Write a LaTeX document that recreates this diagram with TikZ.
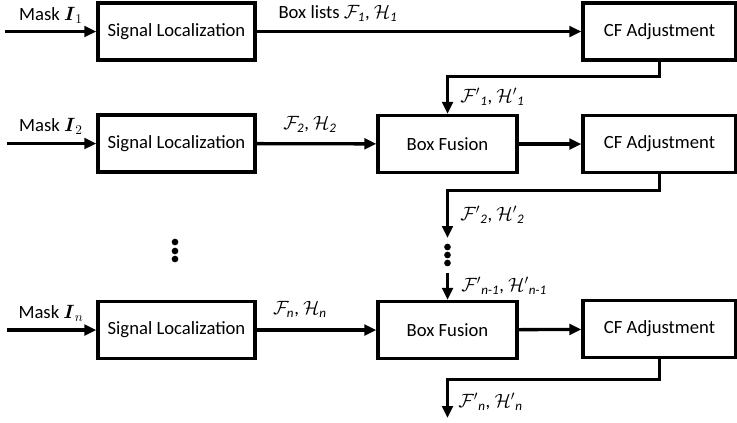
\documentclass[tikz,border=0pt]{standalone}
\usepackage{amsmath}
\usepackage{fontspec}
\setmainfont{Carlito}
\usetikzlibrary{arrows.meta}
\begin{document}
\begin{tikzpicture}[x=0.75pt,y=-0.75pt,
 blk/.style={draw,line width=2.5pt,minimum height=42.75pt,inner sep=0pt,font=\fontsize{14}{16}\selectfont},
 sl/.style={blk,minimum width=117.75pt},
 bf/.style={blk,minimum width=104.25pt},
 cf/.style={blk,minimum width=114.75pt},
 arr/.style={line width=2.5pt,-{Triangle[length=9pt,width=8pt]}},
 lbl/.style={font=\fontsize{14}{16}\selectfont,inner sep=0pt},
 dotn/.style={fill,circle,inner sep=0pt,minimum size=5pt}]
\useasboundingbox (0,0) rectangle (737,422);
% boxes
\node[sl] (sl1) at (176.5,31.5) {Signal Localization};
\node[cf] (cf1) at (659.5,31.5) {CF Adjustment};
\node[sl] (sl2) at (176.5,143.5) {Signal Localization};
\node[bf] (bf2) at (447.5,144) {Box Fusion};
\node[cf] (cf2) at (659.5,144) {CF Adjustment};
\node[sl] (sln) at (176.5,330) {Signal Localization};
\node[bf] (bfn) at (447.5,330) {Box Fusion};
\node[cf] (cfn) at (659.5,329) {CF Adjustment};
% free ends
\coordinate (in1) at (5,31.5);
\coordinate (in2) at (7,143.5);
\coordinate (inn) at (7,330);
\coordinate (e2) at (447.5,238);
\coordinate (s3) at (447.5,273);
\coordinate (e3) at (447.5,418);
% connectors
\draw[arr] (in1) -- (sl1);
\draw[arr] (in2) -- (sl2);
\draw[arr] (inn) -- (sln);
\draw[arr] (sl1) -- (cf1);
\draw[arr] (sl2) -- (bf2);
\draw[arr] (bf2) -- (cf2);
\draw[arr] (sln) -- (bfn);
\draw[arr] (bfn) -- (cfn);
\draw[arr] (cf1.south) -- ++(0,15) -| (bf2.north);
\draw[arr] (cf2.south) -- ++(0,16) -| (e2);
\draw[arr] (s3) -- (bfn.north);
\draw[arr] (cfn.south) -- ++(0,20) -| (e3);
% dots
\node[dotn] (d1) at (447.5,247) {};
\node[dotn] (d2) at (447.5,255) {};
\node[dotn] (d3) at (447.5,263) {};
\node[dotn] (l1) at (175,242) {};
\node[dotn] (l2) at (175,251) {};
\node[dotn] (l3) at (175,259) {};
% labels
\node[lbl] (m1) at (51,15) {Mask $\boldsymbol{I}_1$};
\node[lbl] (m2) at (51,126) {Mask $\boldsymbol{I}_2$};
\node[lbl] (mn) at (51,313) {Mask $\boldsymbol{I}_n$};
\node[lbl] (t1) at (338,13) {Box lists $\mathcal{F}_{\mathit{1}}$, $\mathcal{H}_{\mathit{1}}$};
\node[lbl] (t2) at (310,124) {$\mathcal{F}_{\mathit{2}}$, $\mathcal{H}_{\mathit{2}}$};
\node[lbl] (tn) at (300,309) {$\mathcal{F}_{\mathit{n}}$, $\mathcal{H}_{\mathit{n}}$};
\node[lbl,anchor=west] (p1) at (460,97) {$\mathcal{F}'{}_{\mathit{1}}$, $\mathcal{H}'{}_{\mathit{1}}$};
\node[lbl,anchor=west] (p2) at (460,215) {$\mathcal{F}'{}_{\mathit{2}}$, $\mathcal{H}'{}_{\mathit{2}}$};
\node[lbl,anchor=west] (pm) at (461,286) {$\mathcal{F}'{}_{\mathit{n\text{-}1}}$, $\mathcal{H}'{}_{\mathit{n\text{-}1}}$};
\node[lbl,anchor=west] (pn) at (458,402) {$\mathcal{F}'{}_{\mathit{n}}$, $\mathcal{H}'{}_{\mathit{n}}$};
\end{tikzpicture}
\end{document}
